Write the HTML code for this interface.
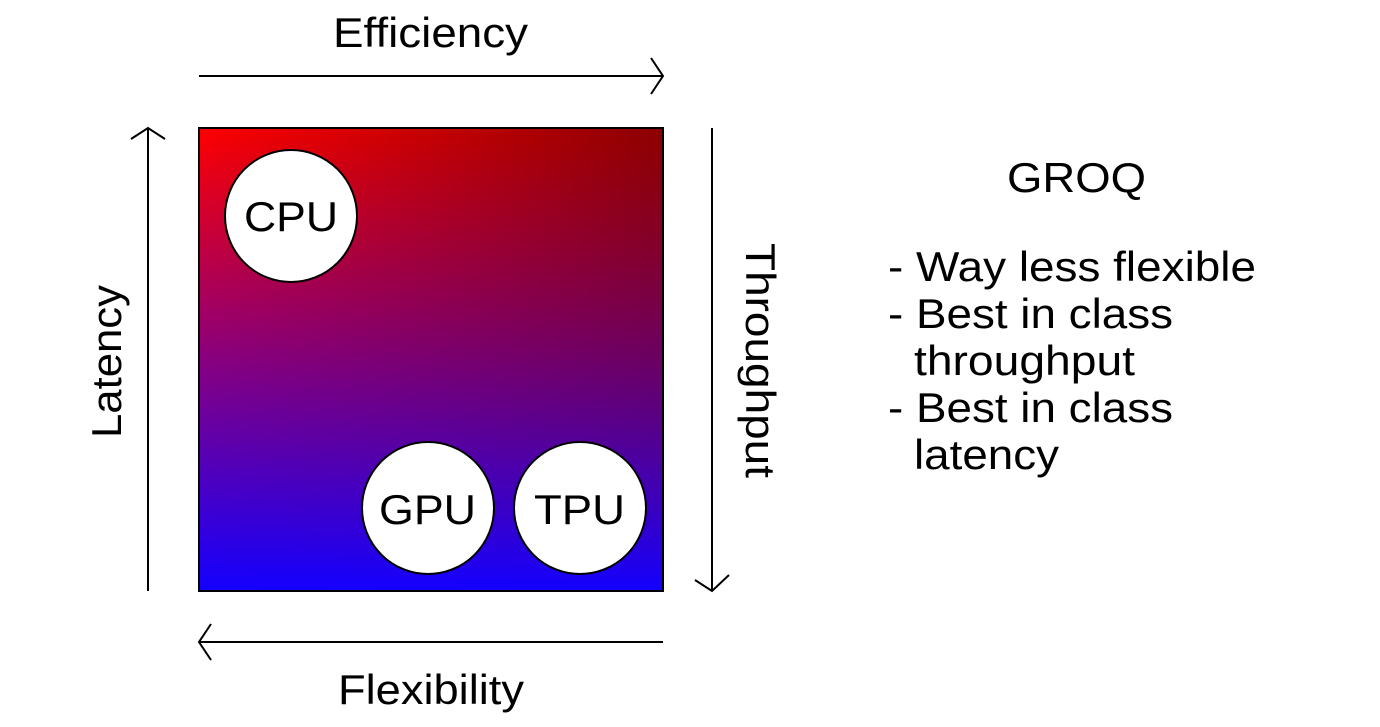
<!DOCTYPE html>
<html><head><style>body{margin:0;background:#fff}</style></head><body>
<svg width="1380" height="722" xmlns="http://www.w3.org/2000/svg" font-family="Liberation Sans, sans-serif">
<defs>
<linearGradient id="v" x1="0" y1="0" x2="0" y2="1"><stop offset="0" stop-color="#ff0000"/><stop offset="1" stop-color="#1400ff"/></linearGradient>
<linearGradient id="h" x1="0" y1="0" x2="1" y2="0"><stop offset="0" stop-color="#000" stop-opacity="0"/><stop offset="1" stop-color="#000" stop-opacity="0.45"/></linearGradient>
<linearGradient id="mv" x1="0" y1="0" x2="0" y2="1"><stop offset="0" stop-color="#fff"/><stop offset="1" stop-color="#000"/></linearGradient>
<mask id="m"><rect x="199" y="128" width="464" height="463" fill="url(#mv)"/></mask>
</defs>
<rect x="199" y="128" width="464" height="463" fill="url(#v)"/>
<rect x="199" y="128" width="464" height="463" fill="url(#h)" mask="url(#m)"/>
<rect x="199" y="128" width="464" height="463" fill="none" stroke="#000" stroke-width="2"/>
<g stroke="#000" stroke-width="2" fill="none">
<line x1="199" y1="76" x2="663" y2="76"/><polyline points="651,58 663,76 651,94"/>
<line x1="148" y1="591" x2="148" y2="128"/><polyline points="131,139 148,128 165,139"/>
<line x1="712" y1="128" x2="712" y2="591"/><polyline points="695,580 712,591 729,575"/>
<line x1="663" y1="642" x2="199" y2="642"/><polyline points="211,624 199,642 211,660"/>
</g>
<g fill="#fff" stroke="#000" stroke-width="2">
<ellipse cx="291" cy="216" rx="66" ry="66"/>
<ellipse cx="428" cy="508" rx="66" ry="66"/>
<ellipse cx="580" cy="508" rx="66" ry="66"/>
</g>
<g font-size="42" fill="#000" lengthAdjust="spacingAndGlyphs">
<text x="244" y="231" textLength="94" lengthAdjust="spacingAndGlyphs">CPU</text>
<text x="379" y="524" textLength="97" lengthAdjust="spacingAndGlyphs">GPU</text>
<text x="534" y="524" textLength="91" lengthAdjust="spacingAndGlyphs">TPU</text>
<text x="333" y="47" textLength="195" lengthAdjust="spacingAndGlyphs">Efficiency</text>
<text x="338" y="704" textLength="186" lengthAdjust="spacingAndGlyphs">Flexibility</text>
<text transform="translate(121,438) rotate(-90)" textLength="153" lengthAdjust="spacingAndGlyphs">Latency</text>
<text transform="translate(746,243) rotate(90)" textLength="235" lengthAdjust="spacingAndGlyphs">Throughput</text>
<text x="1007" y="192" textLength="139" lengthAdjust="spacingAndGlyphs">GROQ</text>
<text x="888" y="281" textLength="368" lengthAdjust="spacingAndGlyphs">- Way less flexible</text>
<text x="888" y="328" textLength="285" lengthAdjust="spacingAndGlyphs">- Best in class</text>
<text x="914" y="375" textLength="221" lengthAdjust="spacingAndGlyphs">throughput</text>
<text x="888" y="422" textLength="285" lengthAdjust="spacingAndGlyphs">- Best in class</text>
<text x="914" y="469" textLength="145" lengthAdjust="spacingAndGlyphs">latency</text>
</g>
</svg>
</body></html>
